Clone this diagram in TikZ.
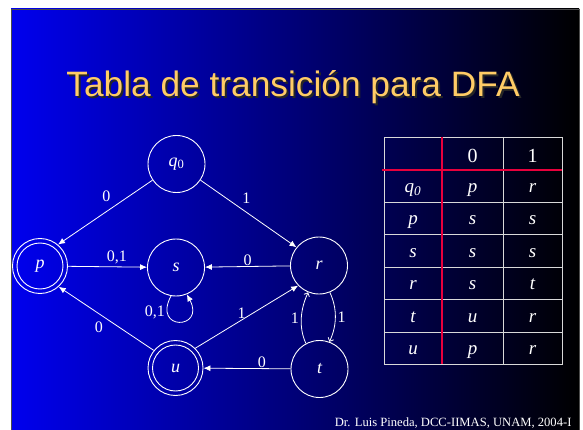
\documentclass[tikz,border=0pt]{standalone}
\usepackage{fontspec}
\setmainfont{Liberation Serif}
\newfontfamily\titlefont{Liberation Sans}
\usetikzlibrary{arrows.meta}

\definecolor{slideblue}{RGB}{0,0,238}
\definecolor{titleyellow}{RGB}{255,204,102}
\definecolor{tabred}{RGB}{232,0,60}

\tikzset{
  state/.style={circle, draw=white, line width=0.9pt, minimum size=57pt, inner sep=0pt,
    text=white, font=\fontsize{18}{18}\selectfont\itshape},
  accept/.style={state, minimum size=55pt},
  inner ring/.style={draw=white, line width=0.9pt},
  trans/.style={draw=white, line width=0.8pt, -{Latex[length=7pt,width=6pt]}},
  barb/.style={draw=white, line width=0.8pt, -{Straight Barb[length=3pt,width=6pt]}},
  lab/.style={text=white, font=\fontsize{16}{16}\selectfont, inner sep=2pt},
  cell/.style={text=white, anchor=base, font=\fontsize{19}{19}\selectfont\itshape},
  head/.style={text=white, anchor=base, font=\fontsize{20}{20}\selectfont},
  grid/.style={draw=white!85!black, line width=0.8pt},
  redline/.style={draw=tabred, line width=1.6pt},
  title/.style={anchor=base, font=\titlefont\fontsize{35.3}{40}\selectfont},
}

\begin{document}
\begin{tikzpicture}[x=1pt,y=-1pt]
\useasboundingbox (0,0) rectangle (583,430);
\shade[left color=slideblue, right color=black] (11,9) rectangle (579,431);
\draw[black!70, line width=0.8pt] (11,9) rectangle (579,431);

	\node[title, text=black!85] (titleshadow) at (295,99) {Tabla de transición para DFA};
	\node[title, text=titleyellow] (title) at (293,97) {Tabla de transición para DFA};

% automaton
\node[state] (q0) at (176.5,164) {q\textsubscript{\upshape 0}};
\node[accept] (p) at (40,266) {p};
\node[state] (s) at (176,267.5) {s};
\node[state] (r) at (319,265.5) {r};
\node[accept] (u) at (175.5,368) {u};
\node[state] (t) at (319.5,369) {t};
\draw[inner ring] (p.center) circle (23pt);
\draw[inner ring] (u.center) circle (23pt);

\draw[trans] (q0.-146) -- node[lab, above left, pos=0.4, inner sep=4pt] {0} (p.50);
\draw[trans] (q0.-34) -- node[lab, above right, pos=0.4, inner sep=3pt] {1} (r.141);
\draw[trans] (p) -- node[lab, above, pos=0.62] {0,1} (s);
\draw[trans] (r) -- node[lab, above, inner sep=0.5pt] {0} (s);
\draw[trans] (u.141) -- node[lab, below left, pos=0.5, inner sep=3pt] {0} (p.-48);
\draw[trans] (u.45) -- node[lab, above, pos=0.45, inner sep=1.5pt] {1} (r.-136);
\draw[trans] (t) -- node[lab, above, pos=0.33, inner sep=1pt] {0} (u);
\draw[trans] (s.-100) .. controls +(-118:40pt) and +(-62:40pt) .. node[lab, left, pos=0.2] {0,1} (s.-68);
\draw[barb] (t.118) .. controls +(115:18pt) and +(-115:18pt) .. node[lab, left] {1} (r.-112);
\draw[barb] (r.-68) .. controls +(-65:18pt) and +(65:18pt) .. node[lab, right] {1} (t.70);

% table
\foreach \y in {202.4,234.8,267.2,299.6,332}
	\draw[grid] (384,\y) -- (562,\y);
\draw[grid] (384,137) rectangle (562,364.4);
\draw[grid] (503,137) -- (503,364.4);
\draw[redline] (382,170) -- (562,170);
\draw[redline] (442,137) -- (442,364.4);

	\node[head] (h0) at (472.5,163) {0};
	\node[head] (h1) at (532.5,163) {1};
\foreach \a/\b/\c [count=\i] in {q\textsubscript{0}/p/r, p/s/s, s/s/s, r/s/t, t/u/r, u/p/r}{
	\node[cell] (st\i) at (413,160.1+32.4*\i) {\a};
	\node[cell] (z\i) at (472.5,160.1+32.4*\i) {\b};
	\node[cell] (o\i) at (532.5,160.1+32.4*\i) {\c};
}

	\node[anchor=base east, text=white, font=\fontsize{12.6}{12.6}\selectfont] (credit) at (575,426) {Dr. Luis Pineda, DCC-IIMAS, UNAM, 2004-I};
\end{tikzpicture}
\end{document}
